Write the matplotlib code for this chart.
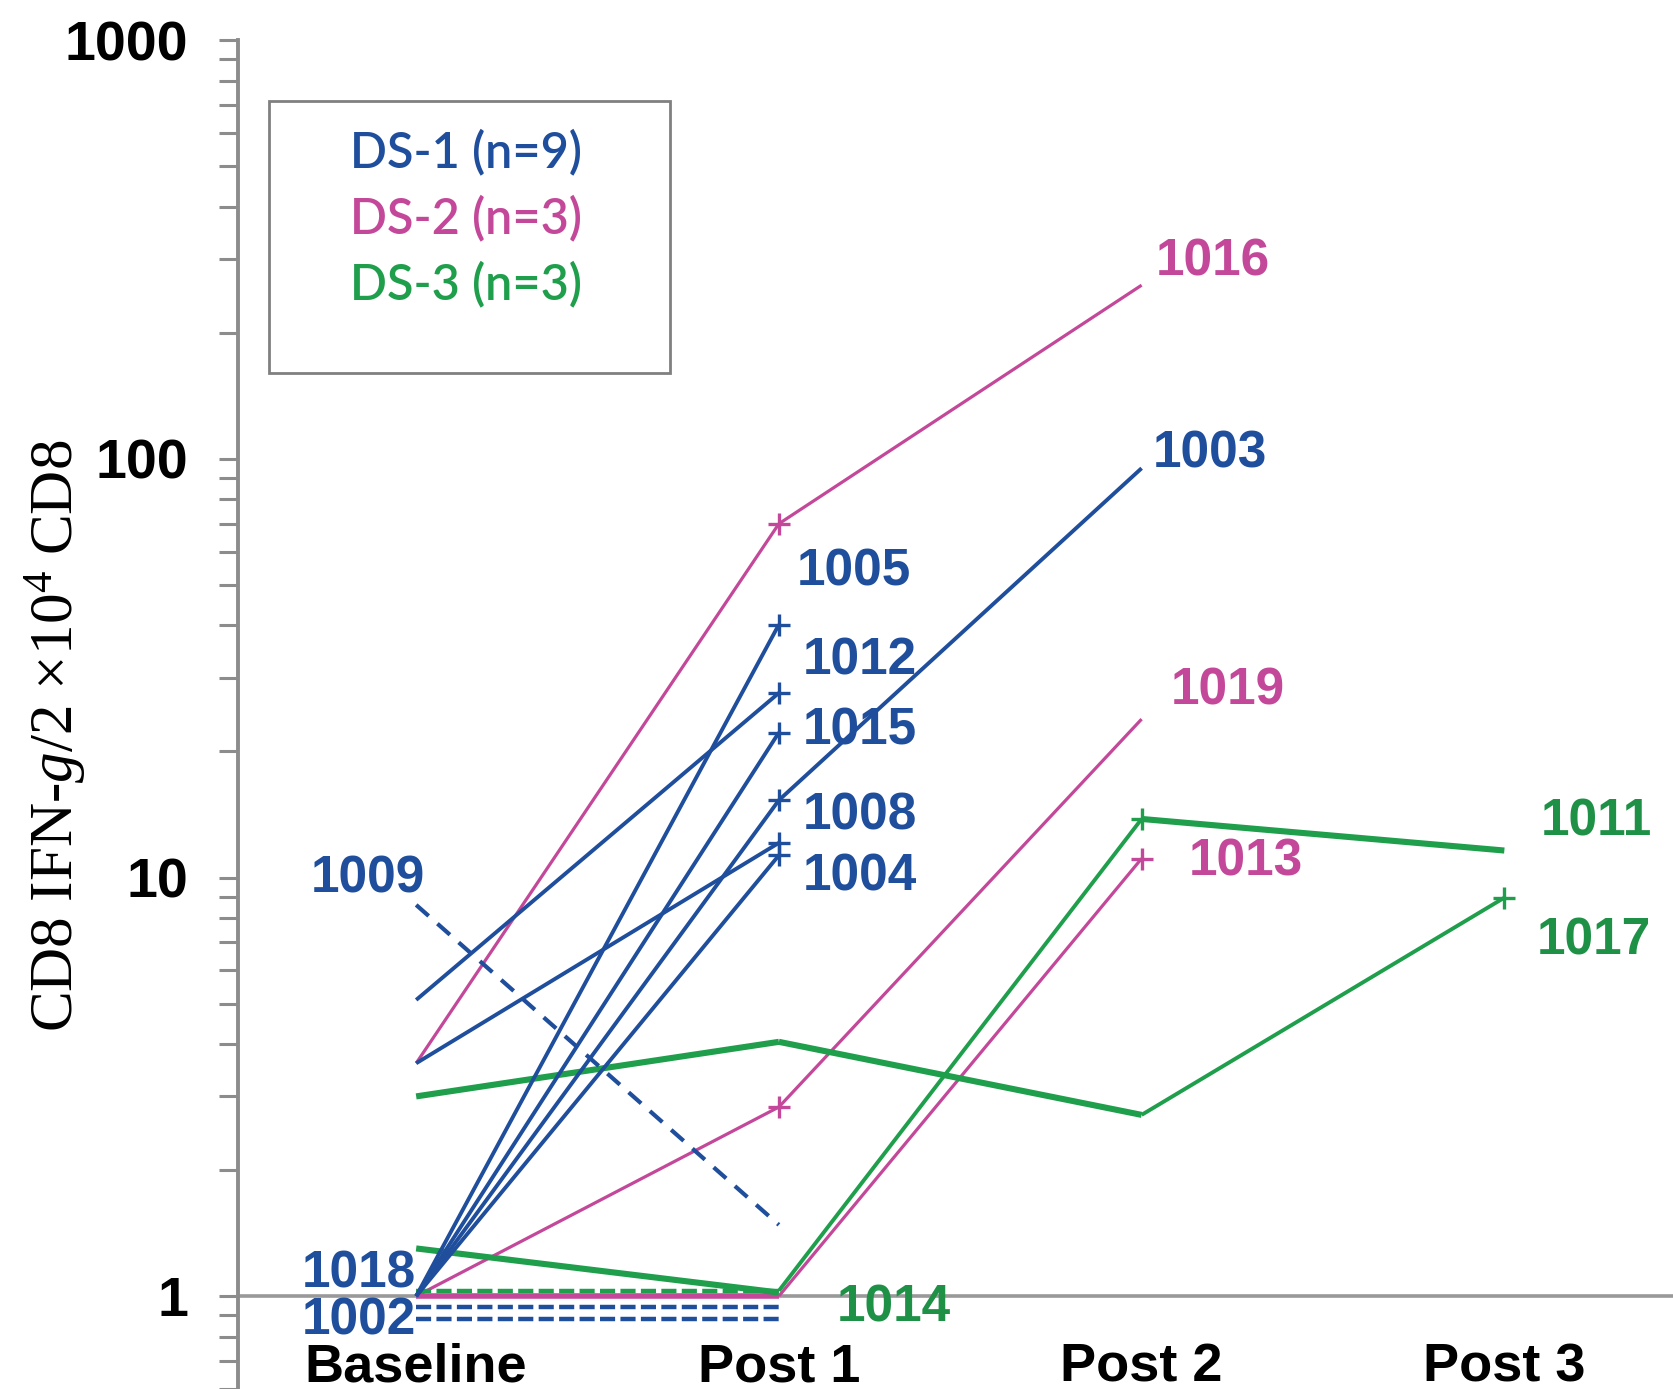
import numpy as np
import matplotlib
matplotlib.use("Agg")
import matplotlib.pyplot as plt
from matplotlib.patches import Rectangle
from matplotlib.ticker import FixedLocator, LogLocator, NullFormatter
import matplotlib.transforms as mtransforms

# ---------------- data ----------------
timepoints = ["Baseline", "Post 1", "Post 2", "Post 3"]
groups = ["DS-1", "DS-2", "DS-3"]
group_n = [9, 3, 3]
y_ticks = [1, 10, 100, 1000]
y_tick_labels = ["1", "10", "100", "1000"]

nan = np.nan
# DS-1 patients
p1003 = [1.0, 15.3, 95.0, nan]
p1005 = [1.0, 40.2, nan, nan]
p1012 = [5.1, 27.6, nan, nan]
p1015 = [1.0, 22.2, nan, nan]
p1008 = [3.6, 12.1, nan, nan]
p1004 = [1.0, 11.3, nan, nan]
p1009 = [8.6, 1.48, nan, nan]
p1018 = [0.94, 0.94, nan, nan]
p1002 = [0.88, 0.88, nan, nan]
# DS-2 patients
p1016 = [3.6, 70.0, 260.0, nan]
p1019 = [1.0, 2.83, 23.9, nan]
p1013 = [1.0, 1.0, 11.1, nan]
# DS-3 patients
p1011 = [1.03, 1.03, 13.8, 11.6]
p1017 = [3.0, 4.05, 2.71, 8.95]
p1014 = [1.3, 1.02, nan, nan]

# ---------------- style ----------------
BLUE = "#1f4e9c"
PINK = "#c4489a"
GREEN = "#1f9e4c"
GREEN_TXT = "#1f9147"
GREY = "#8c8c8c"
colors = [BLUE, PINK, GREEN]

DASH_A = (0, (4.0, 2.8))
DASH_B = (0, (3.4, 1.2))

# (values, color, [lw per segment], [ls per segment], marker indices)
series = [
    (p1016, PINK, [2.3, 2.3], ["-", "-"], [1]),
    (p1019, PINK, [2.3, 2.3], ["-", "-"], [1]),
    (p1013, PINK, [4.0, 2.3], ["-", "-"], [2]),
    (p1017, GREEN, [4.4, 4.4, 2.8], ["-", "-", "-"], [3]),
    (p1011, GREEN, [3.2, 2.8, 4.4], [DASH_B, "-", "-"], [2]),
    (p1014, GREEN, [4.4], ["-"], []),
    (p1003, BLUE, [2.8, 2.8], ["-", "-"], [1]),
    (p1005, BLUE, [2.8], ["-"], [1]),
    (p1012, BLUE, [2.8], ["-"], [1]),
    (p1015, BLUE, [2.8], ["-"], [1]),
    (p1008, BLUE, [2.8], ["-"], [1]),
    (p1004, BLUE, [2.8], ["-"], [1]),
    (p1009, BLUE, [3.0], [DASH_A], []),
    (p1018, BLUE, [3.2], [DASH_B], []),
    (p1002, BLUE, [3.2], [DASH_B], []),
]

# patient label placement (x in category units, y in data units)
labels = [
    ("1016", 2.04, 295, PINK, "left"),
    ("1003", 2.03, 103, BLUE, "left"),
    ("1005", 1.05, 53.7, BLUE, "left"),
    ("1012", 1.065, 32.9, BLUE, "left"),
    ("1015", 1.065, 22.4, BLUE, "left"),
    ("1008", 1.065, 14.06, BLUE, "left"),
    ("1004", 1.065, 10.05, BLUE, "left"),
    ("1019", 2.08, 27.9, PINK, "left"),
    ("1013", 2.13, 10.9, PINK, "left"),
    ("1011", 3.10, 13.6, GREEN_TXT, "left"),
    ("1017", 3.09, 7.07, GREEN_TXT, "left"),
    ("1014", 1.16, 0.937, GREEN_TXT, "left"),
    ("1009", 0.024, 9.9, BLUE, "right"),
    ("1018", 0.0, 1.13, BLUE, "right"),
    ("1002", 0.0, 0.872, BLUE, "right"),
]

W, H, DPI = 1673, 1389, 100
fig = plt.figure(figsize=(W / DPI, H / DPI), dpi=DPI)
ax = fig.add_axes([0.1423, 0.0, 0.8577, 0.971])
ax.set_yscale("log")
ax.set_ylim(0.600, 1000)
ax.set_xlim(-0.491, 3.465)

x = np.arange(len(timepoints))

# reference line at 1
ax.axhline(1, color="#999999", lw=2.6, zorder=1)

for vals, col, lws, lss, mk in series:
    v = np.array(vals, dtype=float)
    for i in range(len(v) - 1):
        if np.isnan(v[i]) or np.isnan(v[i + 1]):
            continue
        ax.plot(x[i:i + 2], v[i:i + 2], color=col, lw=lws[i], ls=lss[i],
                solid_capstyle="butt", dash_capstyle="butt", zorder=3)
    if mk:
        ax.plot(x[mk], v[mk], ls="none", marker="+", ms=16, mew=2.4,
                color=col, zorder=4)

for txt, lx, ly, col, ha in labels:
    ax.text(lx, ly, txt, color=col, ha=ha, va="center", fontsize=37,
            fontweight="bold", family="Liberation Sans", zorder=5)

# category labels inside the axes below the 1-line
trans = mtransforms.blended_transform_factory(ax.transData, ax.transData)
for i, t in enumerate(timepoints):
    ax.text(x[i], 0.676, t, ha="center", va="center", fontsize=39,
            fontweight="bold", family="Liberation Sans", transform=trans)

# axes styling
for s in ["top", "right", "bottom"]:
    ax.spines[s].set_visible(False)
ax.spines["left"].set_color(GREY)
ax.spines["left"].set_linewidth(2.8)
ax.set_xticks([])
ax.yaxis.set_major_locator(FixedLocator(y_ticks))
ax.set_yticklabels(y_tick_labels)
ax.yaxis.set_minor_locator(LogLocator(base=10, subs=np.arange(2, 10)))
ax.yaxis.set_minor_formatter(NullFormatter())
ax.tick_params(axis="y", which="both", direction="out", length=14, width=2.2,
               color=GREY, pad=22)
for lab in ax.get_yticklabels():
    lab.set_fontsize(40)
    lab.set_fontweight("bold")
    lab.set_family("Liberation Sans")

# y label
plt.rcParams["mathtext.fontset"] = "custom"
plt.rcParams["mathtext.rm"] = "Liberation Serif"
plt.rcParams["mathtext.it"] = "Liberation Serif:italic"
fig.text(0.033, 0.47, r"CD8 IFN-$\mathit{g}$/2 $\times$10$^{4}$ CD8",
         rotation=90, ha="center", va="center", fontsize=44,
         family="Liberation Serif")

# legend box
fig.patches.append(Rectangle((0.1608, 0.7315), 0.2397, 0.1958,
                             transform=fig.transFigure, fill=False,
                             edgecolor="#808080", lw=2))
for k, (g, n) in enumerate(zip(groups, group_n)):
    fig.text(0.2092, 0.890 - k * 0.0475, f"{g} (n={n})", color=colors[k],
             ha="left", va="center", fontsize=35, family="Lato",
             fontweight="semibold")

fig.savefig("out.png", dpi=DPI)
